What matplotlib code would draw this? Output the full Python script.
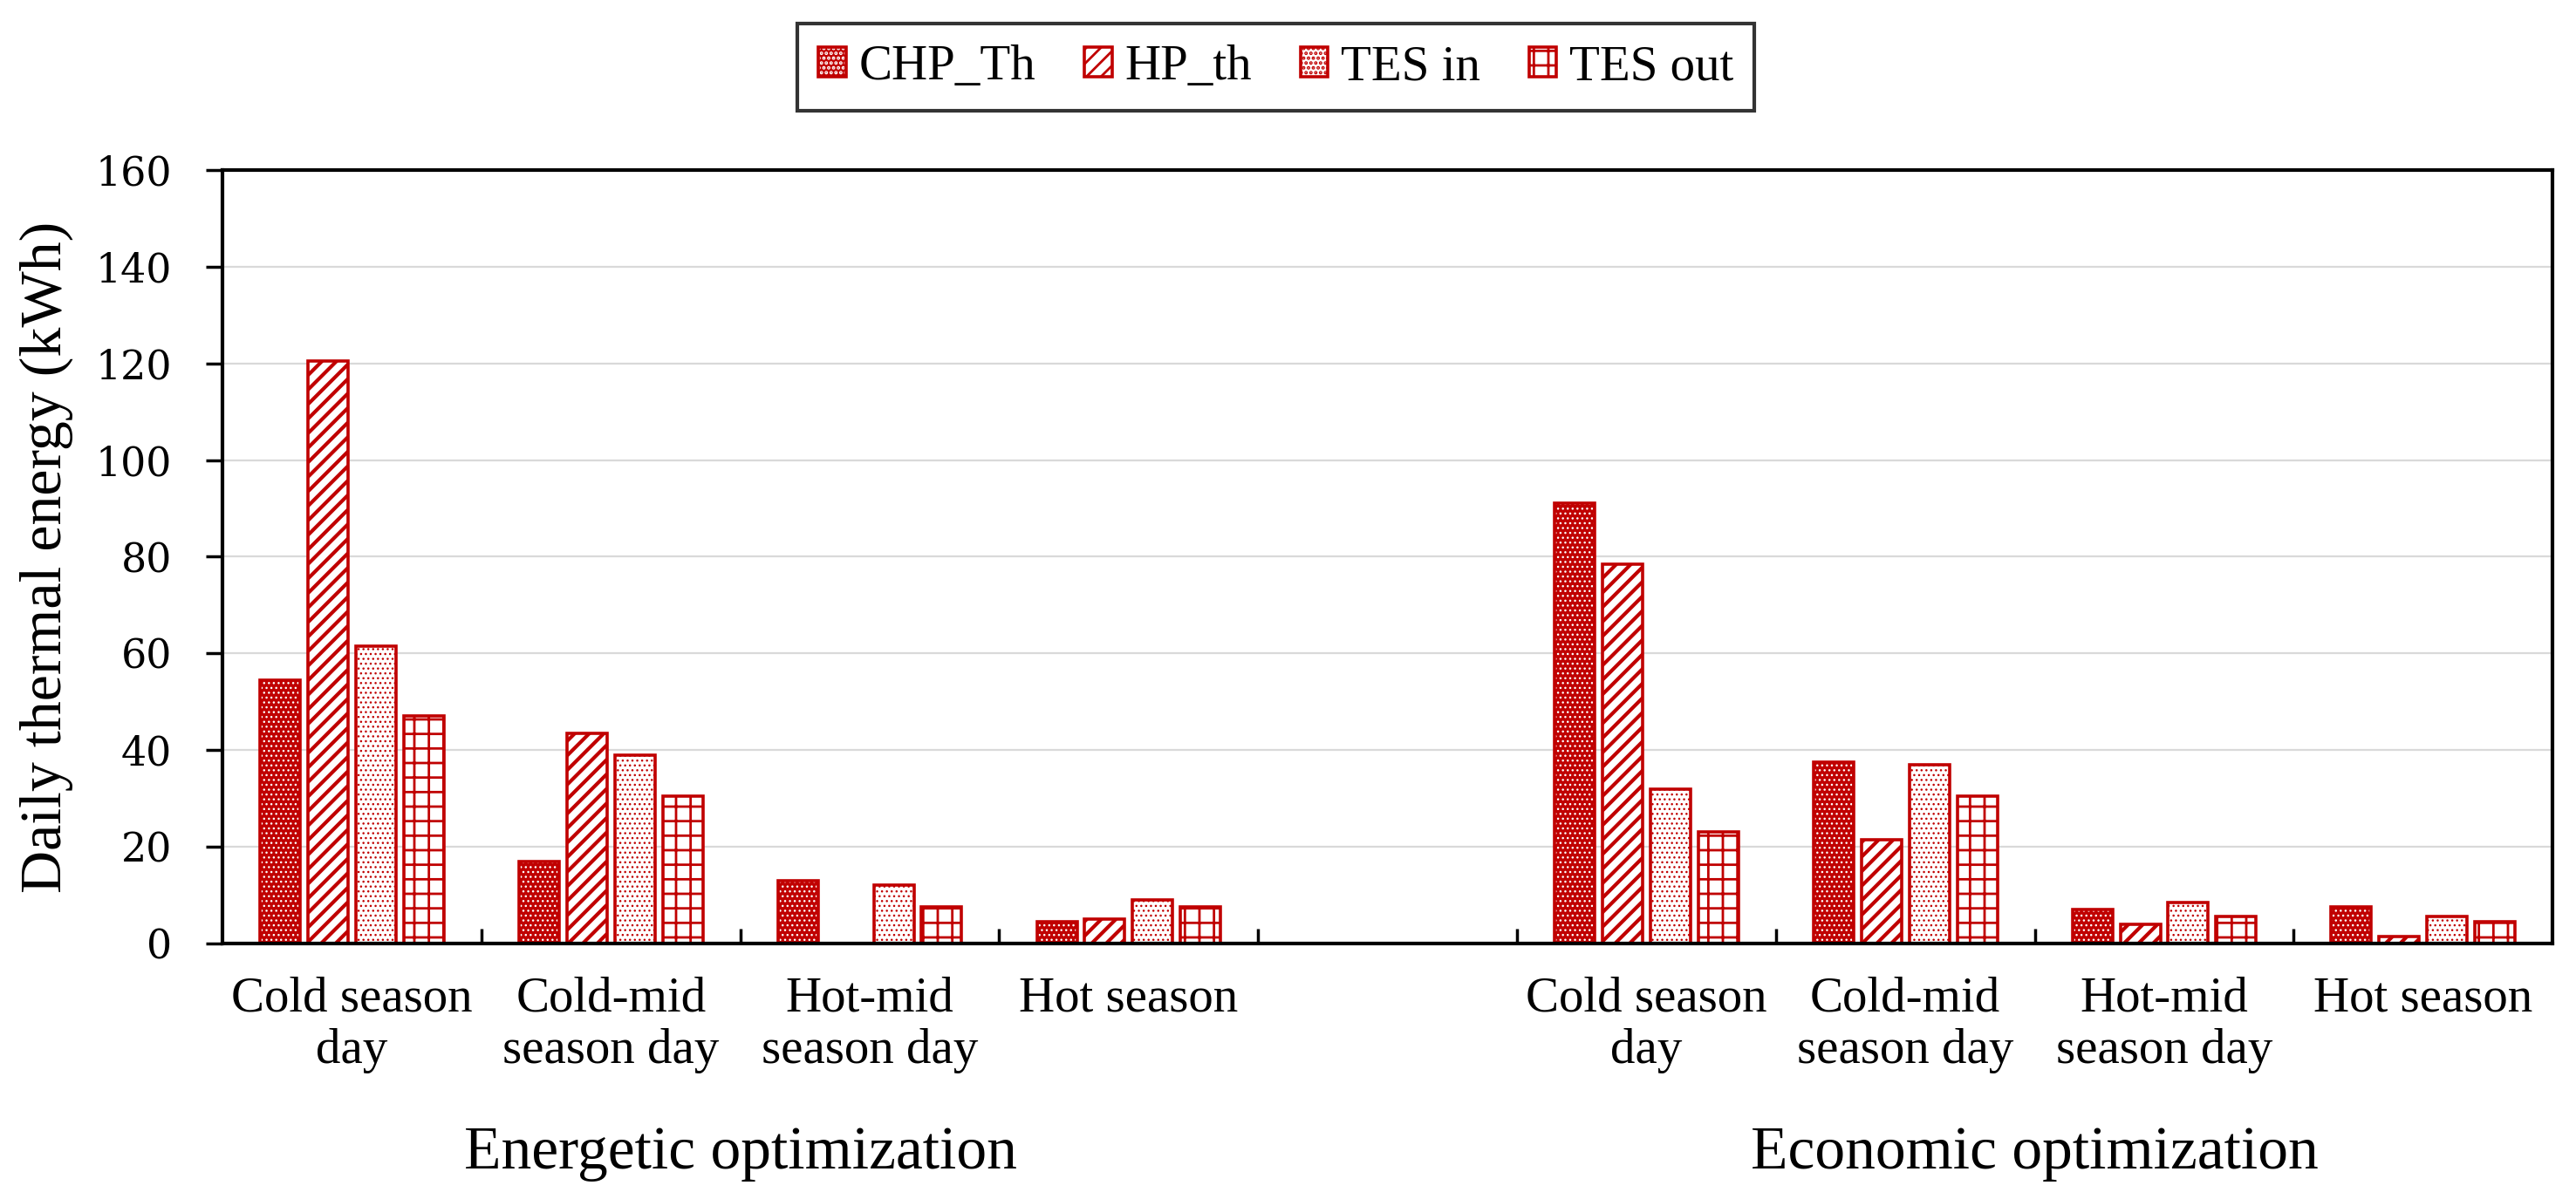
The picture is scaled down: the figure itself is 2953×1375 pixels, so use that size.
import matplotlib.pyplot as plt
import matplotlib as mpl
import numpy as np

# ---- data ----
categories = ["Cold season\nday", "Cold-mid\nseason day", "Hot-mid\nseason day", "Hot season"]
groups = ["Energetic optimization", "Economic optimization"]
series = ["CHP_Th", "HP_th", "TES in", "TES out"]

energetic_chp = [54.5, 17.0, 13.0, 4.5]
energetic_hp = [120.5, 43.5, 0.0, 5.0]
energetic_tes_in = [61.5, 39.0, 12.0, 9.0]
energetic_tes_out = [47.0, 30.5, 7.5, 7.5]

economic_chp = [91.0, 37.5, 7.0, 7.5]
economic_hp = [78.5, 21.5, 4.0, 1.5]
economic_tes_in = [32.0, 37.0, 8.5, 5.5]
economic_tes_out = [23.0, 30.5, 5.5, 4.5]

# ---- style ----
red = "#C00000"
serif = "Liberation Serif"
mpl.rcParams["font.family"] = serif

# slot positions: 4 energetic, one empty slot, 4 economic
pos_energetic = np.arange(4)
pos_economic = np.arange(4) + 5
positions = np.concatenate([pos_energetic, pos_economic])

values = [
    energetic_chp + economic_chp,
    energetic_hp + economic_hp,
    energetic_tes_in + economic_tes_in,
    energetic_tes_out + economic_tes_out,
]
# (face, hatch colour, hatch, hatch linewidth)
looks = [
    (red, "white", "...", 1.0),
    ("white", red, "//", 3.0),
    ("white", red, "...", 1.0),
    ("white", red, "+", 2.0),
]

fig = plt.figure(figsize=(29.53, 13.75), dpi=100)
ax = fig.add_axes([0.0864, 0.2131, 0.9909 - 0.0864, 0.8582 - 0.2131])

step = 0.185
width = 0.155
handles = []
for i in range(4):
    xs = positions + (i - 1.5) * step
    face, hcol, hatch, hlw = looks[i]
    mpl.rcParams["hatch.linewidth"] = hlw
    b1 = ax.bar(xs, values[i], width, color=face, edgecolor=hcol, hatch=hatch,
                linewidth=0, zorder=3)
    for p in b1.patches:
        if hasattr(p, "set_hatch_linewidth"):
            p.set_hatch_linewidth(hlw)
    b2 = ax.bar(xs, values[i], width, facecolor="none", edgecolor=red,
                linewidth=2.6, zorder=4)
    handles.append((b1.patches[0], b2.patches[0]))

ax.set_ylim(0, 160)
ax.set_xlim(-0.5, 8.5)
ax.set_yticks(np.arange(0, 161, 20))
ax.yaxis.grid(True, color="#D9D9D9", linewidth=1.6, zorder=0)
ax.set_axisbelow(True)

for s in ax.spines.values():
    s.set_linewidth(3)
    s.set_color("black")
    s.set_zorder(6)

ax.tick_params(axis="y", direction="out", length=14, width=2.5, pad=28,
               labelsize=33)
for lab in ax.get_yticklabels():
    lab.set_fontfamily("DejaVu Serif")

# boundary ticks pointing in, category labels on minor ticks
ax.set_xticks(np.arange(0.5, 8.5, 1.0))
ax.set_xticklabels([])
ax.tick_params(axis="x", which="major", direction="in", length=12, width=2.5)
ax.set_xticks(positions, minor=True)
ax.set_xticklabels(categories + categories, minor=True, fontsize=41)
ax.tick_params(axis="x", which="minor", length=0, pad=27)

ax.set_ylabel("Daily thermal energy (kWh)", fontsize=49, labelpad=18,
              fontfamily=serif)

for g, pos in zip(groups, [pos_energetic, pos_economic]):
    ax.text(pos.mean(), -0.291, g, transform=ax.get_xaxis_transform(),
            ha="center", va="baseline", fontsize=50)

leg = fig.legend(handles, series, loc="center", bbox_to_anchor=(0.4954, 0.944),
                 ncol=4, fontsize=41, frameon=True, fancybox=False,
                 handlelength=0.56, handleheight=0.56, handletextpad=0.26,
                 columnspacing=0.97, borderpad=0.42,
                 handler_map={tuple: mpl.legend_handler.HandlerTuple(ndivide=1)})
leg.get_frame().set_edgecolor("black")
leg.get_frame().set_linewidth(3)

fig.savefig("out.png", dpi=100)
